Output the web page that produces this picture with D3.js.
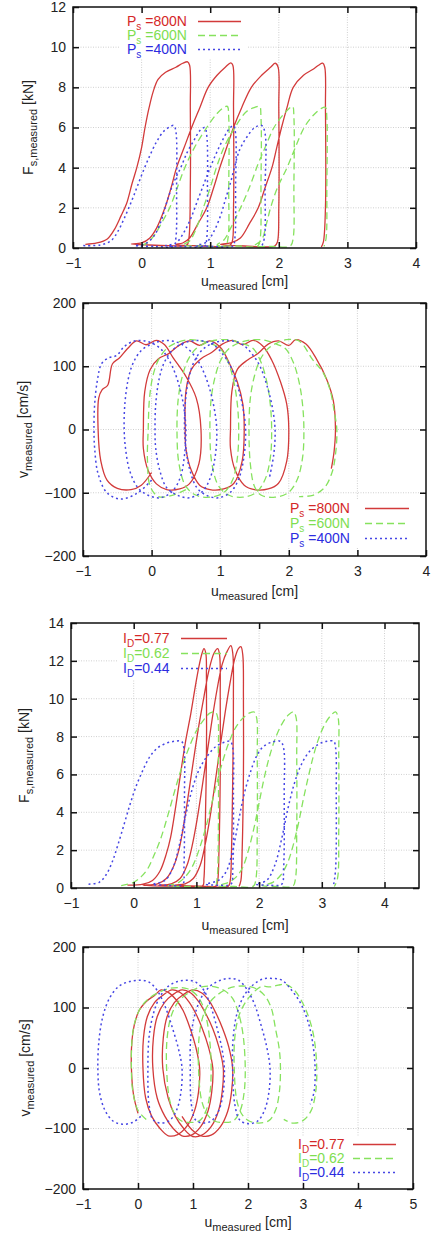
<!DOCTYPE html>
<html>
<head>
<meta charset="utf-8">
<script src="https://cdn.jsdelivr.net/npm/d3@7"></script>
<style>
body { margin: 0; background: #fff; }
svg { display: block; }
text { font-family: "Liberation Sans", Arial, sans-serif; fill: #222; }
</style>
</head>
<body>
<svg id="chart" width="434" height="1236"></svg>
<script>
// ---- tick values ----
const uTicks5 = [-1, 0, 1, 2, 3, 4]
const uTicks6 = [-1, 0, 1, 2, 3, 4, 5]
const fTicks12 = [0, 2, 4, 6, 8, 10, 12]
const fTicks14 = [0, 2, 4, 6, 8, 10, 12, 14]
const vTicks = [-200, -100, 0, 100, 200]

// ---- legend labels ----
const psLabels = ['=800N', '=600N', '=400N']
const idLabels = ['=0.77', '=0.62', '=0.44']

// ---- panel 1: F_s vs u, P_s series [u, F] ----
const fsPs800 = [
    [-0.82, 0.18], [-0.65, 0.25], [-0.5, 0.45], [-0.4, 0.9], [-0.3, 1.6], [-0.22, 2.2], [-0.14, 3.2], [-0.07, 4.0],
    [0.0, 5.0], [0.05, 6.0], [0.11, 7.0], [0.17, 7.8], [0.24, 8.4], [0.35, 8.75], [0.5, 9.0], [0.6, 9.2], [0.67, 9.27],
    [0.7, 9.1], [0.71, 7], [0.71, 3], [0.69, 0.5], [0.66, 0.15], [0.4, 0.12], [0.1, 0.15],
    [-0.15, 0.2], [0.0, 0.25], [0.12, 0.5], [0.22, 1.0], [0.34, 2.0], [0.43, 3.0], [0.51, 4.0], [0.62, 5.0], [0.73, 6.0],
    [0.85, 7.0], [0.97, 8.0], [1.1, 8.6], [1.22, 9.0], [1.3, 9.22], [1.33, 9.1], [1.34, 7], [1.34, 2], [1.32, 0.3],
    [1.28, 0.12], [0.9, 0.1], [0.5, 0.18],
    [0.6, 0.25], [0.7, 0.5], [0.82, 1.2], [0.95, 2.0], [1.05, 3.0], [1.14, 4.0], [1.24, 5.0], [1.34, 6.0], [1.46, 7.0],
    [1.6, 8.0], [1.75, 8.6], [1.88, 9.0], [1.95, 9.2], [1.99, 9.0], [2.0, 7], [2.0, 2], [1.98, 0.3], [1.94, 0.1],
    [1.5, 0.1], [1.15, 0.18],
    [1.3, 0.25], [1.44, 0.5], [1.57, 1.2], [1.7, 2.0], [1.8, 3.0], [1.9, 4.0], [1.97, 5.0], [2.04, 6.0], [2.12, 7.0],
    [2.21, 8.0], [2.36, 8.6], [2.5, 8.9], [2.58, 9.1], [2.64, 9.2], [2.67, 9.0], [2.68, 7], [2.68, 2], [2.65, 0.3], [2.62, 0.05]
]
const fsPs600 = [
    [0.0, 0.12], [0.1, 0.3], [0.2, 0.7], [0.3, 1.3], [0.41, 2.0], [0.52, 3.0], [0.63, 4.0], [0.77, 5.0], [0.95, 6.0],
    [1.1, 6.7], [1.2, 7.0], [1.25, 7.05], [1.27, 6.5], [1.27, 3], [1.26, 0.5], [1.22, 0.12], [0.9, 0.1], [0.6, 0.15],
    [0.7, 0.35], [0.8, 1.0], [0.9, 2.0], [1.0, 3.0], [1.09, 4.0], [1.2, 5.0], [1.36, 6.0], [1.53, 6.8], [1.65, 7.0],
    [1.72, 7.05], [1.74, 6.5], [1.74, 3], [1.73, 0.5], [1.7, 0.12], [1.4, 0.1], [1.1, 0.15],
    [1.2, 0.4], [1.3, 1.0], [1.4, 1.7], [1.47, 2.2], [1.57, 3.0], [1.7, 4.2], [1.8, 5.0], [1.93, 6.0], [2.08, 6.7],
    [2.2, 7.05], [2.22, 6.5], [2.22, 3], [2.21, 0.5], [2.17, 0.1], [1.9, 0.08], [1.65, 0.12],
    [1.75, 0.4], [1.82, 1.2], [1.88, 2.0], [1.98, 3.0], [2.12, 4.0], [2.24, 5.0], [2.37, 6.0], [2.5, 6.6], [2.62, 6.95],
    [2.68, 7.0], [2.7, 6.5], [2.7, 3], [2.69, 0.5], [2.66, 0.08]
]
const fsPs400 = [
    [-0.85, 0.12], [-0.6, 0.15], [-0.45, 0.35], [-0.35, 0.8], [-0.25, 1.5], [-0.15, 2.3], [-0.07, 3.0], [0.02, 3.8],
    [0.12, 4.6], [0.22, 5.3], [0.32, 5.8], [0.42, 6.05], [0.47, 6.1], [0.5, 5.8], [0.51, 3], [0.5, 0.5], [0.47, 0.1],
    [0.2, 0.08], [-0.1, 0.12],
    [0.05, 0.2], [0.18, 0.6], [0.28, 1.3], [0.36, 2.2], [0.46, 3.2], [0.57, 4.0], [0.67, 4.8], [0.77, 5.4], [0.85, 5.85],
    [0.92, 6.0], [0.95, 5.6], [0.96, 3], [0.95, 0.5], [0.92, 0.1], [0.6, 0.08], [0.35, 0.12],
    [0.5, 0.25], [0.62, 0.8], [0.72, 1.5], [0.82, 2.4], [0.92, 3.3], [1.0, 4.0], [1.1, 4.8], [1.2, 5.5], [1.28, 5.95],
    [1.34, 6.1], [1.37, 5.7], [1.37, 3], [1.36, 0.5], [1.33, 0.1], [1.05, 0.08], [0.8, 0.12],
    [0.95, 0.3], [1.05, 0.8], [1.15, 1.6], [1.22, 2.4], [1.3, 3.3], [1.36, 4.1], [1.43, 4.9], [1.53, 5.5], [1.65, 6.0],
    [1.75, 6.1], [1.8, 5.7], [1.8, 3], [1.79, 0.5], [1.75, 0.08]
]

// ---- panel 2: v vs u, P_s series [u, v] ----
const vPs800 = [
    [0.0, -68], [-0.15, -88], [-0.3, -95], [-0.5, -93], [-0.65, -80], [-0.74, -50], [-0.78, 0], [-0.77, 50], [-0.72, 63],
    [-0.64, 70], [-0.57, 104], [-0.47, 113], [-0.35, 128], [-0.22, 140], [-0.08, 134], [0.07, 141], [0.19, 134], [0.31, 114],
    [0.5, 84], [0.65, 50], [0.72, 0], [0.69, -54], [0.55, -86], [0.41, -94], [0.22, -95], [0.07, -86], [-0.05, -65],
    [-0.12, -30], [-0.12, 0],
    [-0.1, 60], [-0.02, 95], [0.1, 112], [0.25, 120], [0.4, 133], [0.55, 140], [0.7, 133], [0.85, 140], [1.0, 130],
    [1.12, 108], [1.25, 75], [1.33, 40], [1.35, 0], [1.32, -50], [1.2, -85], [1.05, -94], [0.85, -95], [0.7, -88],
    [0.58, -65], [0.5, -30], [0.49, 0],
    [0.5, 60], [0.58, 95], [0.72, 112], [0.88, 122], [1.03, 135], [1.18, 141], [1.33, 134], [1.48, 141], [1.62, 132],
    [1.75, 110], [1.88, 75], [1.97, 40], [2.0, 0], [1.97, -50], [1.85, -85], [1.7, -94], [1.5, -95], [1.35, -88],
    [1.22, -65], [1.15, -30], [1.15, 0],
    [1.17, 60], [1.25, 95], [1.4, 110], [1.55, 120], [1.7, 135], [1.85, 140], [2.0, 133], [2.1, 142], [2.25, 135],
    [2.4, 112], [2.55, 80], [2.65, 45], [2.68, 0], [2.66, -35], [2.62, -62]
]
const vPs600 = [
    [0.5, -95], [0.3, -104], [0.1, -106], [-0.02, -90], [-0.06, -50], [-0.05, 0], [-0.03, 50], [0.02, 85], [0.1, 110],
    [0.22, 128], [0.38, 138], [0.55, 142], [0.72, 140], [0.88, 135], [1.0, 128], [1.12, 105], [1.2, 75], [1.25, 40],
    [1.27, 0], [1.25, -45], [1.18, -80], [1.05, -100], [0.85, -107], [0.65, -104], [0.5, -90], [0.4, -55], [0.37, 0],
    [0.39, 50], [0.45, 85], [0.53, 110], [0.65, 128], [0.82, 138], [1.0, 142], [1.18, 141], [1.35, 135], [1.48, 128],
    [1.6, 105], [1.68, 75], [1.73, 40], [1.75, 0], [1.73, -45], [1.65, -80], [1.52, -100], [1.33, -107], [1.13, -104],
    [0.98, -90], [0.88, -55], [0.85, 0],
    [0.87, 50], [0.93, 85], [1.01, 110], [1.13, 128], [1.3, 138], [1.48, 142], [1.66, 141], [1.82, 135], [1.95, 128],
    [2.07, 105], [2.15, 75], [2.2, 40], [2.22, 0], [2.2, -45], [2.12, -80], [1.99, -100], [1.8, -107], [1.6, -104],
    [1.5, -90], [1.44, -55], [1.42, 0],
    [1.44, 50], [1.5, 85], [1.58, 110], [1.7, 128], [1.85, 138], [1.96, 142], [2.15, 140], [2.35, 110], [2.5, 90],
    [2.6, 63], [2.66, 30], [2.7, 0], [2.68, -40], [2.63, -68], [2.52, -92], [2.35, -104], [2.15, -106]
]
const vPs400 = [
    [0.0, -80], [-0.2, -100], [-0.45, -110], [-0.65, -100], [-0.78, -70], [-0.83, -30], [-0.84, 0], [-0.83, 40],
    [-0.79, 78], [-0.73, 104], [-0.63, 113], [-0.51, 117], [-0.4, 131], [-0.25, 140], [-0.1, 140], [0.05, 134],
    [0.18, 122], [0.3, 100], [0.4, 70], [0.47, 35], [0.5, 0], [0.48, -40], [0.42, -75], [0.3, -98], [0.12, -108],
    [-0.05, -104], [-0.2, -92], [-0.32, -65], [-0.38, -30], [-0.4, 0],
    [-0.39, 40], [-0.34, 80], [-0.27, 105], [-0.15, 125], [0.0, 135], [0.15, 140], [0.3, 140], [0.45, 134], [0.6, 120],
    [0.72, 100], [0.83, 70], [0.91, 35], [0.95, 0], [0.93, -40], [0.86, -75], [0.74, -98], [0.55, -108], [0.38, -104],
    [0.22, -92], [0.12, -65], [0.06, -30], [0.05, 0],
    [0.06, 40], [0.11, 80], [0.18, 105], [0.3, 125], [0.45, 136], [0.6, 140], [0.75, 140], [0.9, 134], [1.03, 120],
    [1.15, 100], [1.25, 70], [1.33, 35], [1.37, 0], [1.35, -40], [1.28, -75], [1.16, -98], [0.98, -108], [0.8, -104],
    [0.66, -92], [0.56, -65], [0.5, -30], [0.48, 0],
    [0.49, 40], [0.54, 80], [0.61, 105], [0.73, 125], [0.88, 136], [1.03, 140], [1.18, 140], [1.33, 134], [1.46, 120],
    [1.58, 100], [1.68, 70], [1.76, 35], [1.8, 0], [1.78, -40], [1.72, -75]
]

// ---- panel 3: F_s vs u, I_D series [u, F] ----
const fsId77 = [
    [-0.1, 0.15], [0.15, 0.2], [0.3, 0.4], [0.42, 0.9], [0.52, 1.8], [0.59, 2.7], [0.67, 4.3], [0.75, 6.1], [0.83, 7.8],
    [0.91, 9.2], [0.98, 10.6], [1.04, 11.7], [1.09, 12.4], [1.12, 12.65], [1.15, 12.4], [1.16, 11], [1.16, 7],
    [1.14, 3], [1.12, 0.5], [1.1, 0.12], [0.6, 0.1], [0.15, 0.15],
    [0.38, 0.22], [0.52, 0.5], [0.63, 1.1], [0.72, 2.0], [0.8, 3.4], [0.88, 5.1], [0.96, 6.9], [1.04, 8.6], [1.12, 10.1],
    [1.2, 11.5], [1.28, 12.4], [1.34, 12.65], [1.37, 12.3], [1.38, 10], [1.38, 6], [1.36, 2], [1.34, 0.4], [1.31, 0.1],
    [0.9, 0.1], [0.4, 0.15],
    [0.6, 0.22], [0.74, 0.5], [0.85, 1.2], [0.93, 2.2], [1.01, 3.6], [1.09, 5.3], [1.17, 7.1], [1.25, 8.9], [1.33, 10.5],
    [1.41, 11.8], [1.49, 12.5], [1.55, 12.8], [1.58, 12.4], [1.59, 10], [1.58, 6], [1.56, 2], [1.54, 0.4], [1.51, 0.1],
    [1.1, 0.1], [0.65, 0.15],
    [0.82, 0.22], [0.95, 0.5], [1.06, 1.2], [1.14, 2.3], [1.22, 3.8], [1.3, 5.6], [1.38, 7.5], [1.46, 9.3], [1.54, 10.9],
    [1.61, 12.1], [1.67, 12.65], [1.71, 12.75], [1.74, 12.3], [1.75, 10], [1.75, 6], [1.73, 2], [1.71, 0.4], [1.68, 0.08]
]
const fsId62 = [
    [-0.2, 0.12], [0.0, 0.3], [0.12, 0.6], [0.22, 1.0], [0.32, 1.7], [0.43, 2.6], [0.55, 3.9], [0.66, 5.2], [0.76, 6.3],
    [0.88, 7.4], [1.0, 8.3], [1.12, 8.9], [1.22, 9.25], [1.3, 9.3], [1.34, 9.0], [1.35, 7], [1.35, 3], [1.33, 0.5],
    [1.3, 0.1], [0.9, 0.08], [0.55, 0.12],
    [0.72, 0.3], [0.85, 0.7], [0.96, 1.3], [1.06, 2.2], [1.15, 3.2], [1.24, 4.4], [1.33, 5.6], [1.42, 6.7], [1.52, 7.7],
    [1.63, 8.5], [1.75, 9.0], [1.85, 9.25], [1.92, 9.3], [1.96, 9.0], [1.97, 7], [1.97, 3], [1.95, 0.5], [1.91, 0.1],
    [1.6, 0.08], [1.35, 0.12],
    [1.52, 0.3], [1.64, 0.6], [1.74, 1.1], [1.83, 2.0], [1.92, 3.2], [2.0, 4.5], [2.08, 5.8], [2.17, 7.0], [2.27, 8.0],
    [2.37, 8.7], [2.47, 9.15], [2.55, 9.3], [2.59, 9.0], [2.6, 7], [2.6, 3], [2.58, 0.5], [2.54, 0.1], [2.3, 0.08],
    [2.05, 0.12],
    [2.22, 0.3], [2.35, 0.7], [2.45, 1.3], [2.53, 2.1], [2.62, 3.3], [2.7, 4.6], [2.78, 5.8], [2.86, 6.9], [2.94, 7.8],
    [3.04, 8.6], [3.14, 9.1], [3.22, 9.3], [3.26, 9.0], [3.27, 7], [3.27, 3], [3.25, 0.5], [3.2, 0.08]
]
const fsId44 = [
    [-0.72, 0.2], [-0.55, 0.3], [-0.44, 0.7], [-0.34, 1.4], [-0.25, 2.3], [-0.15, 3.4], [-0.06, 4.4], [0.03, 5.3],
    [0.13, 6.1], [0.25, 6.9], [0.38, 7.4], [0.52, 7.65], [0.65, 7.75], [0.76, 7.75], [0.8, 7.4], [0.81, 5], [0.8, 1],
    [0.78, 0.2], [0.5, 0.15], [0.3, 0.2],
    [0.5, 0.4], [0.63, 1.1], [0.73, 2.3], [0.84, 4.0], [0.94, 5.3], [1.05, 6.3], [1.18, 7.0], [1.32, 7.5], [1.45, 7.7],
    [1.54, 7.75], [1.58, 7.4], [1.59, 5], [1.58, 1], [1.55, 0.2], [1.35, 0.15], [1.15, 0.2],
    [1.35, 0.4], [1.48, 0.9], [1.58, 2.0], [1.67, 3.5], [1.75, 4.8], [1.85, 6.0], [1.95, 6.9], [2.06, 7.45], [2.2, 7.7],
    [2.34, 7.75], [2.39, 7.4], [2.4, 5], [2.39, 1], [2.36, 0.2], [2.15, 0.15], [1.95, 0.2],
    [2.12, 0.4], [2.25, 1.2], [2.36, 2.6], [2.46, 4.2], [2.56, 5.5], [2.67, 6.5], [2.8, 7.2], [2.95, 7.6], [3.08, 7.75],
    [3.19, 7.75], [3.22, 7.4], [3.23, 5], [3.22, 1], [3.19, 0.2]
]

// ---- panel 4: v vs u, I_D series [u, v] ----
const vId77 = [
    [0.0, -75], [-0.08, -45], [-0.12, 0], [-0.11, 45], [-0.07, 70], [0.02, 95], [0.15, 110], [0.3, 120], [0.42, 129],
    [0.55, 125], [0.7, 112], [0.82, 95], [0.95, 65], [1.05, 35], [1.12, 0], [1.1, -40], [1.03, -70], [0.9, -95],
    [0.72, -110], [0.55, -112], [0.4, -100], [0.25, -80], [0.14, -50], [0.09, 0],
    [0.1, 50], [0.17, 85], [0.3, 108], [0.45, 120], [0.62, 129], [0.78, 124], [0.92, 110], [1.05, 90], [1.17, 65],
    [1.28, 35], [1.36, 0], [1.34, -40], [1.27, -72], [1.14, -97], [0.97, -111], [0.8, -112], [0.64, -100], [0.49, -80],
    [0.35, -50], [0.27, 0],
    [0.28, 50], [0.35, 85], [0.48, 108], [0.63, 121], [0.8, 129], [0.96, 124], [1.1, 110], [1.23, 90], [1.36, 65],
    [1.47, 35], [1.55, 0], [1.53, -40], [1.46, -72], [1.33, -97], [1.16, -111], [0.99, -113], [0.83, -100], [0.68, -80],
    [0.55, -50], [0.45, 0],
    [0.46, 50], [0.53, 85], [0.66, 108], [0.82, 121], [1.0, 129], [1.16, 124], [1.3, 110], [1.42, 90], [1.54, 65],
    [1.65, 35], [1.72, 0], [1.7, -40], [1.63, -72], [1.5, -97], [1.33, -111], [1.15, -112], [0.98, -102], [0.8, -80]
]
const vId62 = [
    [0.15, -85], [0.0, -70], [-0.1, -35], [-0.12, 0], [-0.11, 45], [-0.06, 75], [0.05, 100], [0.2, 115], [0.38, 125],
    [0.55, 131], [0.72, 133], [0.9, 131], [1.05, 122], [1.17, 105], [1.26, 75], [1.31, 40], [1.33, 0], [1.31, -40],
    [1.24, -70], [1.12, -87], [0.95, -90], [0.8, -88], [0.68, -78], [0.58, -55], [0.52, 0],
    [0.53, 50], [0.6, 85], [0.72, 108], [0.88, 122], [1.05, 131], [1.22, 135], [1.4, 134], [1.57, 128], [1.72, 115],
    [1.83, 90], [1.91, 55], [1.95, 0], [1.93, -40], [1.86, -70], [1.74, -87], [1.57, -90], [1.4, -88], [1.27, -78],
    [1.16, -55], [1.1, 0],
    [1.11, 50], [1.18, 85], [1.3, 108], [1.46, 122], [1.63, 131], [1.8, 135], [1.98, 135], [2.15, 131], [2.3, 120],
    [2.42, 100], [2.5, 65], [2.57, 30], [2.59, 0], [2.57, -40], [2.5, -70], [2.38, -87], [2.2, -91], [2.03, -88],
    [1.9, -78], [1.8, -55], [1.75, 0],
    [1.76, 50], [1.83, 85], [1.95, 108], [2.1, 125], [2.25, 135], [2.4, 134], [2.55, 137], [2.7, 138], [2.85, 128],
    [2.98, 110], [3.1, 85], [3.2, 50], [3.25, 0], [3.23, -40], [3.15, -70], [3.0, -87], [2.82, -91], [2.65, -85]
]
const vId44 = [
    [0.05, -80], [-0.1, -90], [-0.28, -93], [-0.45, -88], [-0.6, -70], [-0.7, -40], [-0.73, 0], [-0.71, 45],
    [-0.64, 85], [-0.52, 115], [-0.35, 135], [-0.15, 143], [0.05, 145], [0.2, 142], [0.35, 128], [0.5, 100],
    [0.63, 65], [0.74, 30], [0.8, 0], [0.78, -40], [0.7, -70], [0.57, -87], [0.4, -91], [0.27, -85], [0.2, -60], [0.18, 0],
    [0.2, 50], [0.28, 90], [0.4, 118], [0.55, 135], [0.72, 143], [0.88, 145], [1.05, 142], [1.2, 128], [1.33, 100],
    [1.44, 65], [1.53, 30], [1.57, 0], [1.55, -40], [1.47, -70], [1.34, -87], [1.17, -91], [1.04, -85], [0.97, -60],
    [0.95, 0],
    [0.96, 50], [1.04, 90], [1.16, 118], [1.32, 136], [1.5, 145], [1.67, 148], [1.83, 145], [1.98, 130], [2.12, 105],
    [2.24, 70], [2.34, 35], [2.4, 0], [2.38, -40], [2.3, -70], [2.17, -88], [2.0, -92], [1.85, -86], [1.76, -60], [1.72, 0],
    [1.73, 50], [1.8, 90], [1.93, 120], [2.1, 138], [2.27, 147], [2.45, 148], [2.62, 145], [2.78, 130], [2.95, 108],
    [3.08, 80], [3.17, 45], [3.22, 0], [3.2, -40], [3.13, -60]
]

const styles = [
    { color: '#d23a3a', text: '#d42828', dash: null, width: 1.3 },
    { color: '#86e25e', text: '#7ede50', dash: '7,4', width: 1.3 },
    { color: '#4646e4', text: '#2c2ce0', dash: '2,3', width: 1.5 }
]

const svg = d3.select('#chart')
const minus = d => (d < 0 ? '\u2212' + Math.abs(d) : String(d))

function subText(sel, main, sub, tail, size, subSize, shift) {
    sel.append('tspan').text(main).attr('font-size', size)
    sel.append('tspan').text(sub).attr('font-size', subSize).attr('dy', shift)
    sel.append('tspan').text(tail).attr('font-size', size).attr('dy', -shift)
}

function drawPanel(p, idx) {
    const x = d3.scaleLinear().domain(p.xDomain).range([p.left, p.right])
    const y = d3.scaleLinear().domain(p.yDomain).range([p.bottom, p.top])
    const g = svg.append('g')

    // grid
    g.selectAll('.gx')
        .data(p.xTicks.filter(d => x(d) > p.left + 1 && x(d) < p.right - 1))
        .enter()
        .append('line')
        .attr('x1', d => x(d))
        .attr('x2', d => x(d))
        .attr('y1', p.top)
        .attr('y2', p.bottom)
        .attr('stroke', '#c4c4c4')
        .attr('stroke-width', 0.8)
        .attr('stroke-dasharray', '1,1.5')
    g.selectAll('.gy')
        .data(p.yTicks.filter(d => y(d) > p.top + 1 && y(d) < p.bottom - 1))
        .enter()
        .append('line')
        .attr('y1', d => y(d))
        .attr('y2', d => y(d))
        .attr('x1', p.left)
        .attr('x2', p.right)
        .attr('stroke', '#c4c4c4')
        .attr('stroke-width', 0.8)
        .attr('stroke-dasharray', '1,1.5')

    // legend box (opaque, like gnuplot key)
    g.append('rect')
        .attr('x', p.legend.box[0])
        .attr('y', p.legend.box[1])
        .attr('width', p.legend.box[2])
        .attr('height', p.legend.box[3])
        .attr('fill', '#fff')

    // curves
    const clipId = 'clip' + idx
    svg.append('clipPath')
        .attr('id', clipId)
        .append('rect')
        .attr('x', p.left)
        .attr('y', p.top)
        .attr('width', p.right - p.left)
        .attr('height', p.bottom - p.top)
    const line = d3
        .line()
        .x(d => x(d[0]))
        .y(d => y(d[1]))
        .curve(d3.curveCatmullRom.alpha(0.5))
    g.append('g')
        .attr('clip-path', 'url(#' + clipId + ')')
        .selectAll('path')
        .data(p.series)
        .enter()
        .append('path')
        .attr('d', d => line(d))
        .attr('fill', 'none')
        .attr('stroke', (d, i) => styles[i].color)
        .attr('stroke-width', (d, i) => styles[i].width)
        .attr('stroke-dasharray', (d, i) => styles[i].dash)
        .attr('stroke-linejoin', 'round')

    // axes with inward ticks on all four sides
    const axes = [
        [d3.axisBottom(x).tickValues(p.xTicks).tickFormat(minus).tickPadding(10), 0, p.bottom],
        [d3.axisTop(x).tickValues(p.xTicks).tickFormat(''), 0, p.top],
        [d3.axisLeft(y).tickValues(p.yTicks).tickFormat(minus).tickPadding(7), p.left, 0],
        [d3.axisRight(y).tickValues(p.yTicks).tickFormat(''), p.right, 0]
    ]
    axes.forEach(([ax, tx, ty]) => {
        const a = g
            .append('g')
            .attr('transform', 'translate(' + tx + ',' + ty + ')')
            .call(ax.tickSizeInner(-6).tickSizeOuter(0))
        a.select('.domain').remove()
        a.selectAll('line').attr('stroke', '#111').attr('stroke-width', 1.5)
        a.selectAll('text')
            .attr('font-size', 14)
            .attr('fill', '#222')
            .style('font-family', '"Liberation Sans", Arial, sans-serif')
    })

    g.append('rect')
        .attr('x', p.left)
        .attr('y', p.top)
        .attr('width', p.right - p.left)
        .attr('height', p.bottom - p.top)
        .attr('fill', 'none')
        .attr('stroke', '#111')
        .attr('stroke-width', 1.5)

    // axis titles
    const xt = g
        .append('text')
        .attr('x', (p.left + p.right) / 2)
        .attr('y', p.bottom + p.xTitleDy)
        .attr('text-anchor', 'middle')
    subText(xt, 'u', 'measured', ' [cm]', 14, 11, 4)
    const yt = g
        .append('text')
        .attr('transform', 'translate(' + (p.left - p.yTitleDx) + ',' + (p.top + p.bottom) / 2 + ') rotate(-90)')
        .attr('text-anchor', 'middle')
    subText(yt, p.yTitle[0], p.yTitle[1], p.yTitle[2], 14, 11, 4)

    // legend
    p.series.forEach((s, i) => {
        const by = p.legend.y + i * p.legend.dy
        const t = g
            .append('text')
            .attr('x', p.legend.x)
            .attr('y', by)
            .style('fill', styles[i].text)
        t.append('tspan').text(p.legend.main).attr('font-size', 14)
        t.append('tspan').text(p.legend.sub).attr('font-size', 10).attr('dy', 3.5)
        t.append('tspan').text(p.legend.labels[i]).attr('font-size', 14).attr('dy', -3.5)
        g.append('line')
            .attr('x1', p.legend.lx[0])
            .attr('x2', p.legend.lx[1])
            .attr('y1', by - 4.5)
            .attr('y2', by - 4.5)
            .attr('stroke', styles[i].color)
            .attr('stroke-width', styles[i].width)
            .attr('stroke-dasharray', styles[i].dash)
    })
}

const panels = [
    {
        left: 73, right: 416, top: 7, bottom: 248,
        xDomain: [-1, 4], yDomain: [0, 12], xTicks: uTicks5, yTicks: fTicks12,
        series: [fsPs800, fsPs600, fsPs400],
        xTitleDy: 38, yTitleDx: 40, yTitle: ['F', 's,measured', ' [kN]'],
        legend: { x: 127, y: 26, dy: 14, lx: [198, 241], main: 'P', sub: 's', labels: psLabels.map(d => ' ' + d), box: [120, 10, 128, 48] }
    },
    {
        left: 83, right: 426, top: 303, bottom: 556,
        xDomain: [-1, 4], yDomain: [-200, 200], xTicks: uTicks5, yTicks: vTicks,
        series: [vPs800, vPs600, vPs400],
        xTitleDy: 40, yTitleDx: 55, yTitle: ['v', 'measured', ' [cm/s]'],
        legend: { x: 290, y: 513, dy: 15, lx: [365, 409], main: 'P', sub: 's', labels: psLabels.map(d => ' ' + d), box: [285, 500, 128, 48] }
    },
    {
        left: 71, right: 419, top: 623, bottom: 888,
        xDomain: [-1, 4.55], yDomain: [0, 14], xTicks: uTicks5, yTicks: fTicks14,
        series: [fsId77, fsId62, fsId44],
        xTitleDy: 42, yTitleDx: 42, yTitle: ['F', 's,measured', ' [kN]'],
        legend: { x: 123, y: 643, dy: 15, lx: [181, 227], main: 'I', sub: 'D', labels: idLabels, box: [118, 627, 114, 52] }
    },
    {
        left: 83, right: 413, top: 947, bottom: 1189,
        xDomain: [-1, 5], yDomain: [-200, 200], xTicks: uTicks6, yTicks: vTicks,
        series: [vId77, vId62, vId44],
        xTitleDy: 38, yTitleDx: 53, yTitle: ['v', 'measured', ' [cm/s]'],
        legend: { x: 298, y: 1149, dy: 14, lx: [353, 396], main: 'I', sub: 'D', labels: idLabels, box: [293, 1136, 106, 46] }
    }
]

panels.forEach((p, i) => drawPanel(p, i))
</script>
</body>
</html>
